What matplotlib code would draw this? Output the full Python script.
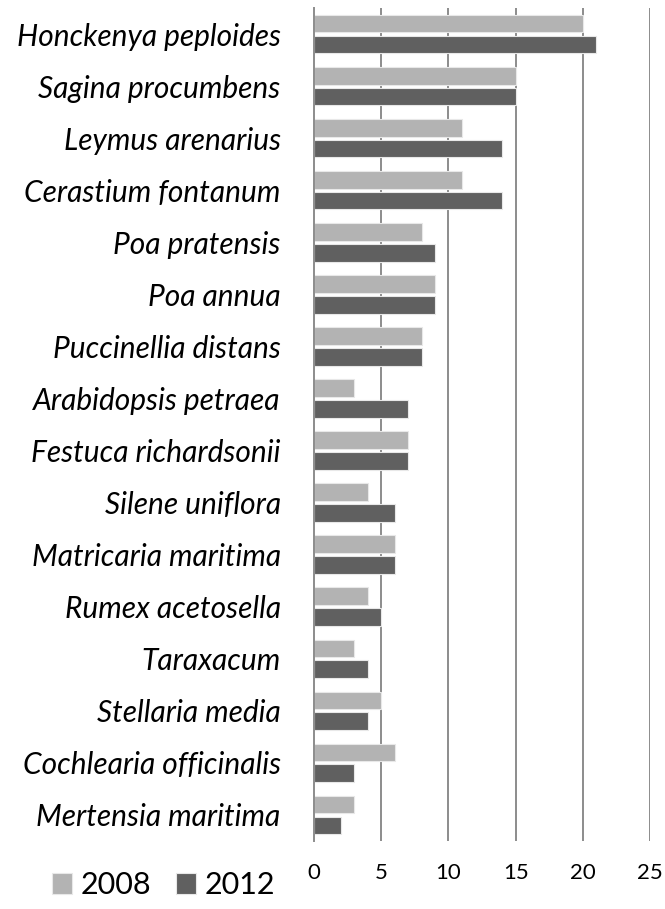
import numpy as np
import matplotlib
matplotlib.use("Agg")
import matplotlib.pyplot as plt

# species counts per survey year, top row first
species = ["Honckenya peploides", "Sagina procumbens", "Leymus arenarius",
           "Cerastium fontanum", "Poa pratensis", "Poa annua",
           "Puccinellia distans", "Arabidopsis petraea", "Festuca richardsonii",
           "Silene uniflora", "Matricaria maritima", "Rumex acetosella",
           "Taraxacum", "Stellaria media", "Cochlearia officinalis",
           "Mertensia maritima"]
vals_2008 = [20, 15, 11, 11, 8, 9, 8, 3, 7, 4, 6, 4, 3, 5, 6, 3]
vals_2012 = [21, 15, 14, 14, 9, 9, 8, 7, 7, 6, 6, 5, 4, 4, 3, 2]
x_ticks = [0, 5, 10, 15, 20, 25]

plt.rcParams['font.family'] = ['Lato', 'DejaVu Sans']

fig = plt.figure(figsize=(6.65, 9.09), dpi=100)
ax = fig.add_axes([0.4722, 0.0748, 0.5052, 0.9164])

ypos = np.arange(len(species))
b1 = ax.barh(ypos - 0.2, vals_2008, height=0.34, color='#b3b3b3',
             edgecolor='#e8e8e8', linewidth=0.8, label='2008', zorder=3)
b2 = ax.barh(ypos + 0.2, vals_2012, height=0.34, color='#606060',
             edgecolor='#e8e8e8', linewidth=0.8, label='2012', zorder=3)

ax.set_xlim(0, 25)
ax.set_ylim(len(species) - 0.5, -0.5)
ax.set_xticks(x_ticks)
ax.set_yticks(ypos)
ax.set_yticklabels(species, fontsize=21.5, style='italic')
ax.tick_params(axis='y', length=0, pad=24)
ax.tick_params(axis='x', length=0, pad=16, labelsize=16)

for x in x_ticks[1:]:
    ax.axvline(x, color='#8c8c8c', linewidth=1.4, zorder=1)
for side in ['top', 'right', 'bottom']:
    ax.spines[side].set_visible(False)
ax.spines['left'].set_color('#8c8c8c')
ax.spines['left'].set_linewidth(1.4)
ax.spines['left'].set_zorder(4)

fig.legend(handles=[b1, b2], labels=['2008', '2012'], loc='lower left',
           bbox_to_anchor=(0.055, -0.006), ncol=2, frameon=False,
           fontsize=22, handlelength=0.65, handleheight=0.65,
           handletextpad=0.3, columnspacing=0.8, borderpad=0)

fig.savefig("out.png", dpi=100)
